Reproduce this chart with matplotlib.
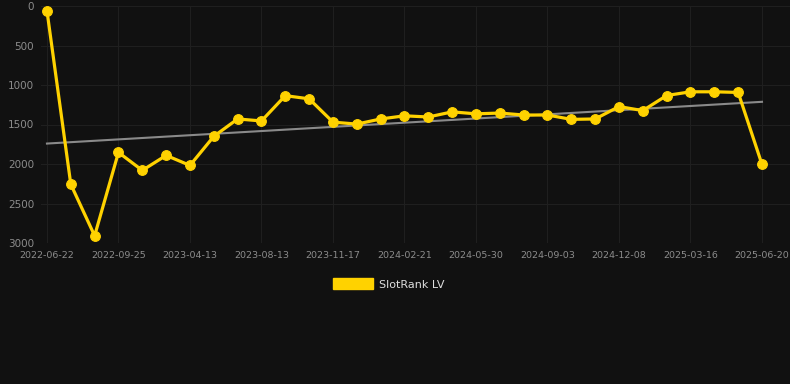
import numpy as np
import matplotlib
matplotlib.use("Agg")
from matplotlib import pyplot as plt
from matplotlib.patches import Patch

# Rank values (lower is better, axis inverted)
dates = ["2022-06-22", "", "", "2022-09-25", "", "", "2023-04-13", "", "",
         "2023-08-13", "", "", "2023-11-17", "", "", "2024-02-21", "", "",
         "2024-05-30", "", "", "2024-09-03", "", "", "2024-12-08", "", "",
         "2025-03-16", "", "", "2025-06-20"]
rank = [60, 2257, 2908, 1853, 2081, 1891, 2018, 1650, 1430, 1455, 1135,
        1175, 1470, 1495, 1430, 1390, 1405, 1340, 1365, 1355, 1380, 1380,
        1435, 1430, 1273, 1324, 1133, 1086, 1086, 1094, 2005]
y_ticks = [0, 500, 1000, 1500, 2000, 2500, 3000]

bg = "#111111"
gold = "#FFD200"

fig = plt.figure(figsize=(7.9, 3.84), dpi=100, facecolor=bg)
W, H = 790, 384
ax = fig.add_axes([41 / W, 1 - 243 / H, (790 - 41) / W, (243 - 6) / H])
ax.set_facecolor(bg)

x = np.arange(len(rank))

# linear trend
k, b = np.polyfit(x, rank, 1)
ax.plot([x[0], x[-1]], [k * x[0] + b, k * x[-1] + b], color="#8a8a8a", lw=1.5, zorder=2)

ax.plot(x, rank, color=gold, lw=2.3, marker="o", markersize=7,
        markerfacecolor=gold, markeredgecolor=gold, markeredgewidth=0.8, zorder=3)

ax.set_xlim(-0.25, 30 + 28 / 23.83)
ax.set_ylim(3000, 0)
ax.set_yticks(y_ticks)
ax.set_yticklabels([str(v) for v in y_ticks])
tick_pos = [i for i, d in enumerate(dates) if d]
ax.set_xticks(tick_pos)
ax.set_xticklabels([dates[i] for i in tick_pos])

ax.grid(True, color="#1f1f1f", lw=0.8)
ax.set_axisbelow(True)
for s in ax.spines.values():
    s.set_visible(False)
ax.tick_params(axis="y", colors="#8c8c8c", labelsize=7.5, length=0, pad=5)
ax.tick_params(axis="x", colors="#8c8c8c", labelsize=6.8, length=0, pad=6)

handle = Patch(facecolor=gold, edgecolor=gold)
fig.legend([handle], ["SlotRank LV"], loc="center", bbox_to_anchor=(389 / W, 1 - 284 / H),
           frameon=False, fontsize=8, labelcolor="#dddddd",
           handlelength=3.6, handleheight=1.1, handletextpad=0.55)

fig.savefig("out.png", dpi=100, facecolor=bg)
